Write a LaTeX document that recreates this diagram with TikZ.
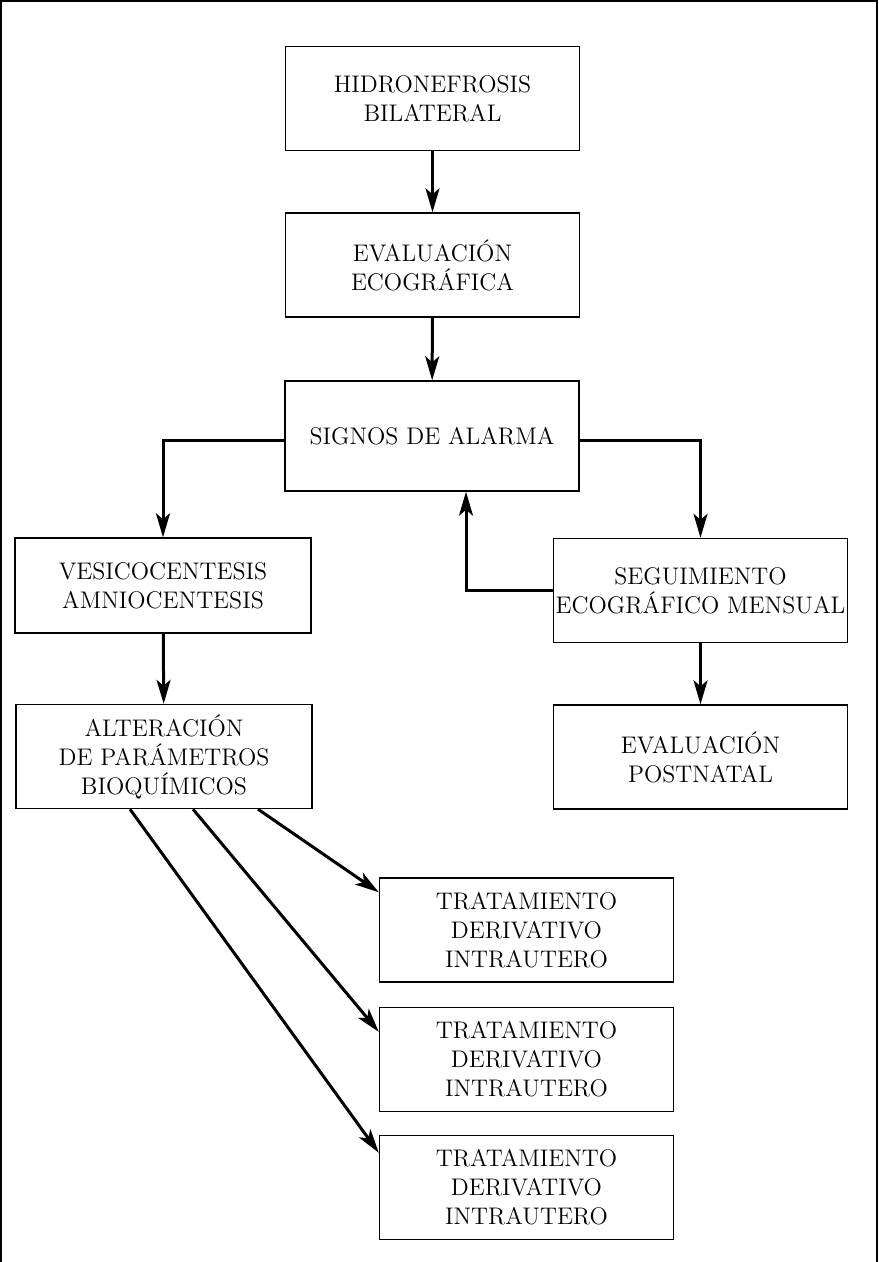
\documentclass[tikz,border=0pt]{standalone}
\usetikzlibrary{arrows.meta}

\begin{document}
\begin{tikzpicture}[x=0.5pt, y=-0.5pt,
    box/.style={draw, shape=rectangle, line width=0.7pt, align=center,
      minimum width=147pt, minimum height=52pt, inner sep=0pt,
      font=\fontsize{12}{14.5}\selectfont},
    arr/.style={line width=1.5pt, -{Stealth[length=12pt, width=7pt, inset=3pt]}}]

  \useasboundingbox (0,0) rectangle (878,1262);
  % Page frame
  \path[draw, line width=1pt] (1,1262) -- (1,1) -- (877,1) -- (877,1262);

  % Main column nodes
  \node[box] (hidro) at (432.5,98.5) {HIDRONEFROSIS\\BILATERAL};
  \node[box] (ecog) at (432.5,265) {EVALUACIÓN\\ECOGRÁFICA};
  \node[box, minimum height=55pt] (signos) at (432,436) {SIGNOS DE ALARMA};
  % Left branch nodes
  \node[box, minimum width=148pt, minimum height=47.5pt] (vesico) at (163,585.5) {VESICOCENTESIS\\AMNIOCENTESIS};
  \node[box, minimum width=148pt] (alter) at (164,756.5) {ALTERACIÓN\\DE PARÁMETROS\\BIOQUÍMICOS};
  % Right branch nodes
  \node[box] (segui) at (700.5,590.5) {SEGUIMIENTO\\ECOGRÁFICO MENSUAL};
  \node[box] (postn) at (700.5,757) {EVALUACIÓN\\POSTNATAL};
  % Treatment nodes
  \node[box] (trat1) at (526.5,930) {TRATAMIENTO\\DERIVATIVO\\INTRAUTERO};
  \node[box] (trat2) at (526.5,1059.5) {TRATAMIENTO\\DERIVATIVO\\INTRAUTERO};
  \node[box] (trat3) at (526.5,1187.5) {TRATAMIENTO\\DERIVATIVO\\INTRAUTERO};

  % Main column arrows
  \path[draw,arr] (hidro) to (ecog);
  \path[draw,arr] (ecog) to (signos);
  % Branch arrows
  \path[draw,arr] ([yshift=-2pt]signos.west) -| (vesico.north);
  \path[draw,arr] ([yshift=-2pt]signos.east) -| (segui.north);
  \path[draw,arr] (segui.west) -| ([xshift=17pt]signos.south);
  \path[draw,arr] (vesico) to (alter);
  \path[draw,arr] (segui) to (postn);
  % Treatment arrows
  \path[draw,arr] ([xshift=47pt]alter.south) to ([yshift=-7.5pt]trat1.north west);
  \path[draw,arr] ([xshift=14.5pt]alter.south) to ([yshift=-12.5pt]trat2.north west);
  \path[draw,arr] ([xshift=-17pt]alter.south) to ([yshift=-9pt]trat3.north west);

\end{tikzpicture}
\end{document}
